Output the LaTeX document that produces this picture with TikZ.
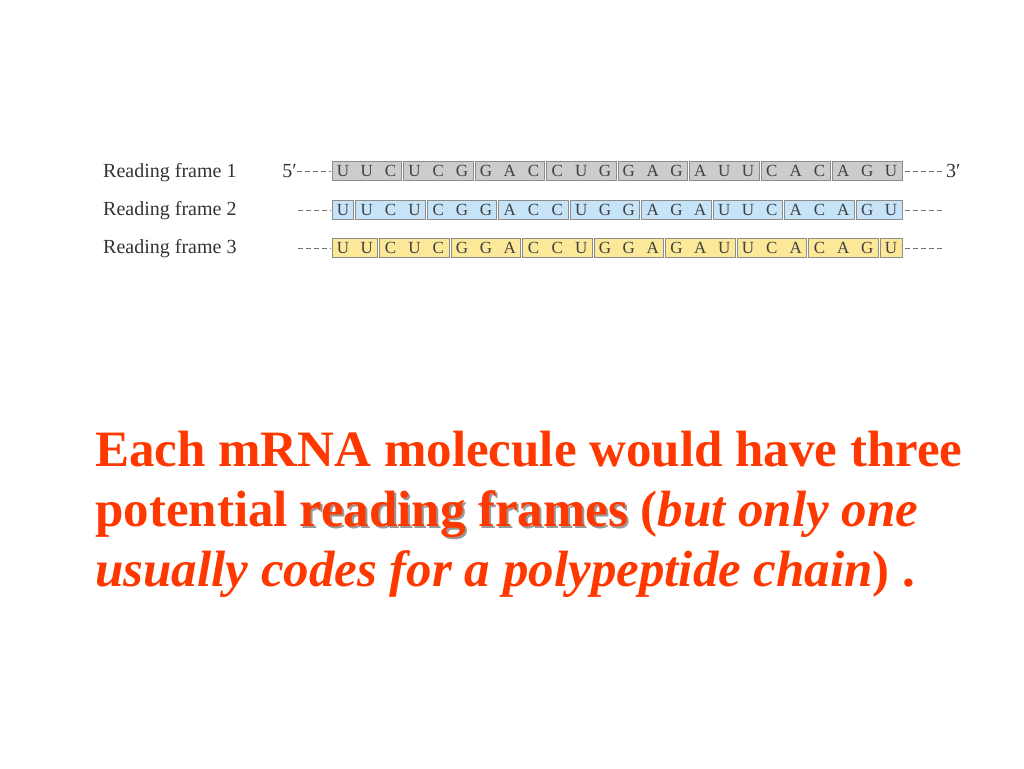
\documentclass[tikz,border=0pt]{standalone}
\usepackage{fontspec}
\setmainfont{Liberation Serif}
\definecolor{frameone}{rgb}{0.80,0.80,0.80}
\definecolor{frametwo}{rgb}{0.78,0.89,0.97}
\definecolor{framethree}{rgb}{0.99,0.91,0.60}
\definecolor{textred}{rgb}{1.0,0.22,0.0}
\usetikzlibrary{positioning}

\tikzset{
  codonbox/.style={draw=black!45, line width=0.8pt},
  base/.style={font=\fontsize{17}{17}\selectfont, text=black!75, inner sep=0pt},
  framelabel/.style={anchor=base west, font=\fontsize{20}{20}\selectfont, text=black!80, inner sep=0pt},
  trail/.style={black!55, line width=0.8pt, dash pattern=on 5pt off 3pt},
  bigtext/.style={anchor=base west, inner sep=0pt, text=textred, font=\fontsize{51}{51}\selectfont\bfseries}
}

\begin{document}
\begin{tikzpicture}[x=1pt, y=-1pt]
    \useasboundingbox (0,0) rectangle (1024,768);
    \def\xo{331}
    \def\w{23.83}

    % row labels
    \node[framelabel] (lab1) at (103,177) {Reading frame 1};
    \node[framelabel] (lab2) at (103,215) {Reading frame 2};
    \node[framelabel] (lab3) at (103,253) {Reading frame 3};

    % codon boxes: start/length, row y, colour
    \foreach \s/\n in {0/3,3/3,6/3,9/3,12/3,15/3,18/3,21/3}
        \filldraw[codonbox, fill=frameone] ({\xo+\s*\w+1},161) rectangle ({\xo+(\s+\n)*\w-1},180);
    \foreach \s/\n in {0/1,1/3,4/3,7/3,10/3,13/3,16/3,19/3,22/2}
        \filldraw[codonbox, fill=frametwo] ({\xo+\s*\w+1},200) rectangle ({\xo+(\s+\n)*\w-1},219);
    \foreach \s/\n in {0/2,2/3,5/3,8/3,11/3,14/3,17/3,20/3,23/1}
        \filldraw[codonbox, fill=framethree] ({\xo+\s*\w+1},238) rectangle ({\xo+(\s+\n)*\w-1},257);

    % bases
    \foreach \b [count=\k from 0] in {U,U,C,U,C,G,G,A,C,C,U,G,G,A,G,A,U,U,C,A,C,A,G,U}
        \foreach \y in {171,210,248}
            \node[base] at ({\xo+(\k+0.5)*\w},\y) {\b};

    % strand ends
    \node[framelabel, anchor=base east] (five) at (297,177) {5′};
    \node[framelabel, anchor=base west] (three) at (946,177) {3′};
    \draw[trail] (297,171) -- (331,171);
    \draw[trail] (905,171) -- (944,171);
    \foreach \y in {210,248} {
        \draw[trail] (298,\y) -- (331,\y);
        \draw[trail] (905,\y) -- (942,\y);
    }

    % caption
    \node[bigtext] (line1) at (95,466) {Each mRNA molecule would have three};
    \node[bigtext] (line2a) at (95,526) {potential};
    \node[bigtext, text=black!40, right=11pt of line2a.base east, anchor=base west, xshift=2pt, yshift=-2pt] (shadow) {reading frames};
    \node[bigtext, right=11pt of line2a.base east, anchor=base west] (rf) {reading frames};
    \node[bigtext, right=12pt of rf.base east, anchor=base west] (line2b) {(\textit{but only one}};
    \node[bigtext] (line3) at (95,586) {\textit{usually codes for a polypeptide chain}) .};
\end{tikzpicture}
\end{document}
